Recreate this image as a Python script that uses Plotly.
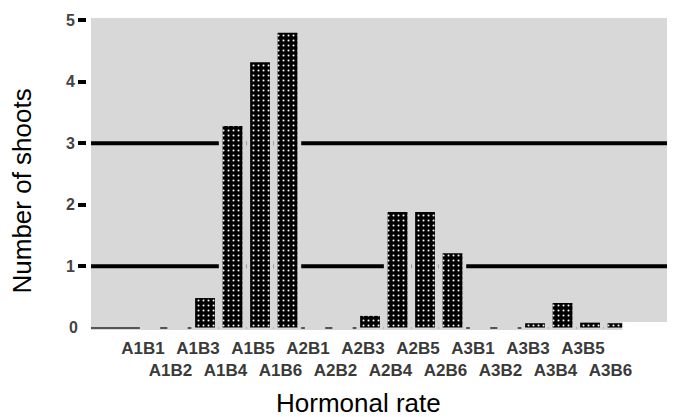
import plotly.graph_objects as go

categories = ["A1B1", "A1B2", "A1B3", "A1B4", "A1B5", "A1B6",
              "A2B1", "A2B2", "A2B3", "A2B4", "A2B5", "A2B6",
              "A3B1", "A3B2", "A3B3", "A3B4", "A3B5", "A3B6"]
shoots = [0.0, 0.0, 0.48, 3.28, 4.32, 4.80,
          0.0, 0.0, 0.19, 1.88, 1.88, 1.21,
          0.0, 0.0, 0.07, 0.40, 0.08, 0.07]
y_ticks_marked = [1, 2, 3, 4, 5]
y_tick_zero = [0]
ref_lines = [1, 3]

tick_text = [c if i % 2 == 0 else "<br>" + c for i, c in enumerate(categories)]
idx = list(range(len(categories)))

BG = "#d8d8d8"
FONT = "Liberation Sans, Arial"
Y_RANGE = [-0.04, 5.04]
Y_POS = 0.1156
TICKFONT_Y = dict(family=FONT, size=16, color="#444", weight="bold")

fig = go.Figure()
# gray halo behind each bar (breaks the reference lines around the bars)
fig.add_trace(go.Bar(
    x=idx, y=shoots, width=0.74,
    marker=dict(color=BG, line=dict(color=BG, width=7)),
    hoverinfo="skip",
))
# the bars themselves (drawn on the overlaying axis, above the halo)
fig.add_trace(go.Bar(
    x=idx, y=shoots, width=0.72, yaxis="y2",
    marker=dict(
        color="black",
        line=dict(width=0),
        pattern=dict(shape=".", fgcolor="white", bgcolor="black", size=5, solidity=0.13),
    ),
    hovertext=categories,
))

for v in ref_lines:
    fig.add_hline(y=v, line=dict(color="black", width=4), layer="below")

# white notch at the bottom-right of the plotting area
fig.add_shape(type="rect", xref="paper", yref="paper", x0=0.910, x1=1.0, y0=-0.01, y1=0.026,
              fillcolor="white", line=dict(width=0), layer="above")

fig.update_layout(
    template="none",
    barmode="overlay",
    width=675, height=417,
    margin=dict(l=0, r=0, t=10, b=95),
    paper_bgcolor="white",
    plot_bgcolor=BG,
    showlegend=False,
    xaxis=dict(
        domain=[0.123, 1.0],
        range=[-2.145, 19.38],
        automargin=False,
        tickmode="array", tickvals=idx, ticktext=tick_text, tickangle=0,
        tickfont=dict(family=FONT, size=17, color="#3a3a3a", weight="bold"),
        ticks="", showgrid=False, zeroline=False, showline=False,
        ticklabelshift=-7, ticklabelstandoff=6,
    ),
    yaxis=dict(
        range=Y_RANGE,
        automargin=False,
        anchor="free", position=Y_POS,
        tickmode="array", tickvals=y_ticks_marked,
        ticks="outside", ticklen=8, tickwidth=4, tickcolor="black",
        tickfont=TICKFONT_Y,
        showgrid=False, zeroline=False, showline=False,
    ),
    yaxis2=dict(
        range=Y_RANGE, overlaying="y",
        automargin=False,
        anchor="free", position=Y_POS,
        tickmode="array", tickvals=y_tick_zero,
        ticks="", ticklabelstandoff=8,
        tickfont=TICKFONT_Y,
        showgrid=False, zeroline=True, zerolinecolor="#555", zerolinewidth=1.5,
        showline=False, layer="above traces",
    ),
    annotations=[
        dict(text="Number of shoots", xref="paper", yref="paper", x=0.0, y=0.5,
             xanchor="center", yanchor="middle", textangle=-90, showarrow=False,
             xshift=13, yshift=-17.5,
             font=dict(family=FONT, size=26, color="black")),
        dict(text="Hormonal rate", xref="paper", yref="paper", x=0.5, y=0,
             xanchor="center", yanchor="middle", showarrow=False,
             xshift=12.5, yshift=-73,
             font=dict(family=FONT, size=26, color="black")),
    ],
)

fig.write_html("out.html")
